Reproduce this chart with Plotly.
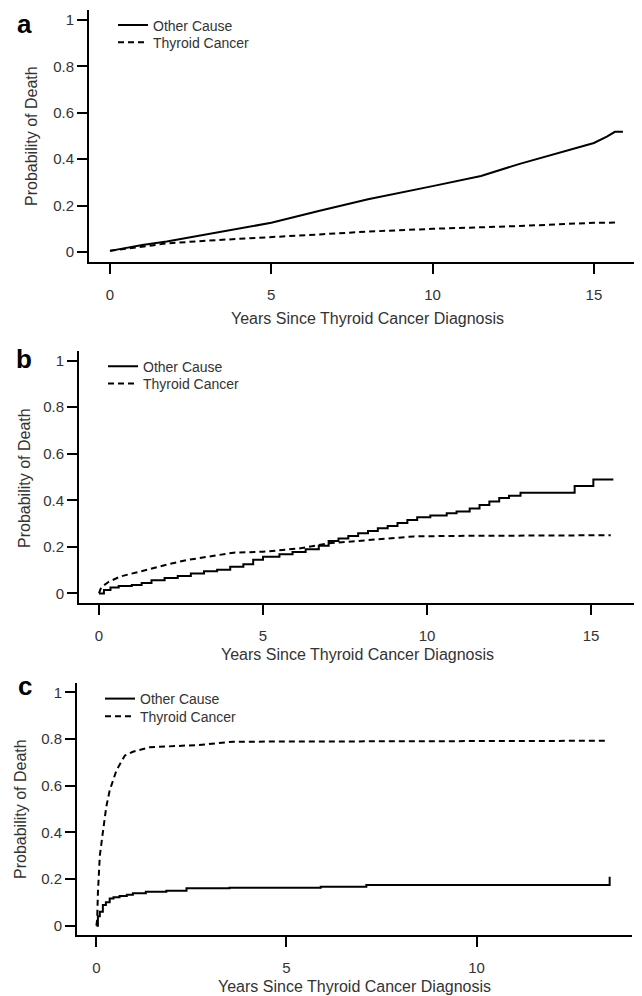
import plotly.graph_objects as go

# ---------------- data ----------------
# Panel a
a_other_t = [0, 1.0, 1.76, 2.5, 3.1, 4.0, 5.0, 6.5, 8.0, 10.0, 11.5, 12.7, 14.0, 15.0, 15.4, 15.65, 15.9]
a_other_v = [0.005, 0.03, 0.045, 0.063, 0.08, 0.102, 0.126, 0.178, 0.227, 0.284, 0.328, 0.38, 0.432, 0.47, 0.497, 0.518, 0.518]
a_thy_t = [0, 1.0, 1.76, 3.0, 5.0, 6.5, 8.0, 10.0, 12.7, 14.0, 15.0, 15.7]
a_thy_v = [0.005, 0.025, 0.037, 0.049, 0.063, 0.076, 0.088, 0.1, 0.112, 0.12, 0.126, 0.127]

# Panel b
b_other_t = [0, 0.15, 0.35, 0.6, 1.0, 1.3, 1.6, 2.0, 2.4, 2.8, 3.2, 3.6, 4.0, 4.4, 4.7, 5.0,
             5.5, 5.9, 6.3, 6.7, 7.0, 7.3, 7.6, 7.9, 8.2, 8.5, 8.8, 9.1, 9.4, 9.7, 10.1, 10.6,
             10.9, 11.3, 11.6, 11.9, 12.2, 12.5, 12.85, 14.5, 15.07, 15.68]
b_other_v = [0, 0.015, 0.025, 0.032, 0.036, 0.045, 0.057, 0.066, 0.075, 0.085, 0.095, 0.102, 0.115, 0.125, 0.145, 0.157,
             0.168, 0.178, 0.19, 0.205, 0.225, 0.236, 0.247, 0.258, 0.268, 0.28, 0.29, 0.302, 0.315, 0.327, 0.335, 0.344,
             0.352, 0.365, 0.38, 0.395, 0.41, 0.42, 0.433, 0.462, 0.49, 0.49]
b_thy_t = [0, 0.05, 0.15, 0.3, 0.64, 1.0, 1.55, 2.1, 2.67, 3.4, 4.1, 5.0, 6.1, 7.0, 8.2, 9.2, 9.6, 10.8, 15.6]
b_thy_v = [0, 0.02, 0.035, 0.05, 0.072, 0.085, 0.107, 0.125, 0.143, 0.16, 0.175, 0.179, 0.193, 0.215, 0.229, 0.24, 0.245, 0.247, 0.25]

# Panel c
c_other_t = [0, 0.04, 0.09, 0.17, 0.25, 0.35, 0.45, 0.61, 0.8, 0.96, 1.3, 1.84, 2.37, 3.5, 5.9, 7.1, 13.5]
c_other_v = [0, 0.04, 0.06, 0.089, 0.1, 0.117, 0.122, 0.127, 0.133, 0.139, 0.145, 0.15, 0.16, 0.163, 0.167, 0.174, 0.21]
c_thy_t = [0, 0.02, 0.04, 0.09, 0.17, 0.26, 0.35, 0.53, 0.75, 0.96, 1.4, 2.7, 3.6, 13.4]
c_thy_v = [0, 0.025, 0.14, 0.3, 0.4, 0.51, 0.58, 0.667, 0.73, 0.746, 0.765, 0.775, 0.789, 0.793]

y_ticks = [0, 0.2, 0.4, 0.6, 0.8, 1]
y_ticktext = ["0", "0.2", "0.4", "0.6", "0.8", "1"]
x_ticks = [0, 5, 10, 15]
panel_letters = ["a", "b", "c"]
series_names = ["Other Cause", "Thyroid Cancer"]
x_title = "Years Since Thyroid Cancer Diagnosis"
y_title = "Probability of Death"

# ---------------- figure ----------------
OFF = 8                       # page body margin of the rendered html
W, H = 642 - OFF, 996 - OFF   # figure size so that it fills the window
FONT = "Liberation Sans, Arial, sans-serif"
TXT = "#333333"
DASH = "6px,4px"


def px(xs):
    return (xs - OFF) / W


def py(ys):
    return 1 - (ys - OFF) / H


fig = go.Figure()

panels = [
    dict(t1=a_other_t, v1=a_other_v, t2=a_thy_t, v2=a_thy_v, shape1="linear"),
    dict(t1=b_other_t, v1=b_other_v, t2=b_thy_t, v2=b_thy_v, shape1="hv"),
    dict(t1=c_other_t, v1=c_other_v, t2=c_thy_t, v2=c_thy_v, shape1="hv"),
]

# screen-pixel geometry of each panel (axis-line box)
geo = [
    dict(x0=89, x1=642, y0=10, y1=262, xr=[-0.65, 16.49], yr=[-0.043, 1.043],
         leg=(113, 25.5, 42.7), xt=(367, 319), yt=(31, 136), let=(24, 24, 26)),
    dict(x0=79, x1=635, y0=350.7, y1=602.7, xr=[-0.61, 16.34], yr=[-0.04, 1.043],
         leg=(103, 366.7, 384), xt=(357, 654), yt=(24, 478), let=(24, 359, 26)),
    dict(x0=77, x1=631.7, y0=682.7, y1=935, xr=[-0.51, 14.08], yr=[-0.04, 1.042],
         leg=(100, 699, 716.7), xt=(354, 986), yt=(20, 809), let=(25, 686, 26)),
]

annotations = []
legend_layouts = {}
for i, (p, g) in enumerate(zip(panels, geo)):
    n = "" if i == 0 else str(i + 1)
    lg1 = "legend" + ("" if i == 0 else str(2 * i + 1))
    lg2 = "legend" + str(2 * i + 2)
    fig.add_trace(go.Scatter(x=p["t1"], y=p["v1"], mode="lines", name=series_names[0],
                             line=dict(color="black", width=2, shape=p["shape1"]),
                             xaxis="x" + n, yaxis="y" + n, legend=lg1))
    fig.add_trace(go.Scatter(x=p["t2"], y=p["v2"], mode="lines", name=series_names[1],
                             line=dict(color="black", width=2, dash=DASH),
                             xaxis="x" + n, yaxis="y" + n, legend=lg2))
    axis_common = dict(showline=True, linecolor="black", linewidth=2, ticks="outside",
                       ticklen=10, tickwidth=2, tickcolor="black", showgrid=False,
                       zeroline=False, automargin=False,
                       tickfont=dict(family=FONT, size=15, color=TXT))
    fig.update_layout(**{
        "xaxis" + n: dict(domain=[px(g["x0"]), min(px(g["x1"]), 1)], range=g["xr"], tickvals=x_ticks,
                          anchor="y" + n, ticklabelstandoff=8, **axis_common),
        "yaxis" + n: dict(domain=[py(g["y1"]), py(g["y0"])], range=g["yr"], tickvals=y_ticks,
                          ticktext=y_ticktext, anchor="x" + n, **axis_common),
    })
    for lg, yy in ((lg1, g["leg"][1]), (lg2, g["leg"][2])):
        legend_layouts[lg] = dict(x=px(g["leg"][0]), y=py(yy), xanchor="left", yanchor="middle",
                                  bgcolor="rgba(0,0,0,0)", borderwidth=0,
                                  font=dict(family=FONT, size=14, color=TXT))
    annotations.append(dict(text=x_title, x=px(g["xt"][0]), y=py(g["xt"][1]), xref="paper", yref="paper",
                            showarrow=False, xanchor="center", yanchor="middle",
                            font=dict(family=FONT, size=16, color=TXT)))
    annotations.append(dict(text=y_title, x=px(g["yt"][0]), y=py(g["yt"][1]), xref="paper", yref="paper",
                            showarrow=False, xanchor="center", yanchor="middle", textangle=-90,
                            font=dict(family=FONT, size=16, color=TXT)))
    annotations.append(dict(text="<b>%s</b>" % panel_letters[i], x=px(g["let"][0]), y=py(g["let"][1]),
                            xref="paper", yref="paper", showarrow=False, xanchor="center", yanchor="middle",
                            borderpad=0,
                            font=dict(family=FONT, size=g["let"][2], color="black")))

fig.update_layout(width=W, height=H, margin=dict(l=0, r=0, t=0, b=0, autoexpand=False),
                  paper_bgcolor="white", plot_bgcolor="white", showlegend=True,
                  annotations=annotations, **legend_layouts)

fig.write_html("out.html")
